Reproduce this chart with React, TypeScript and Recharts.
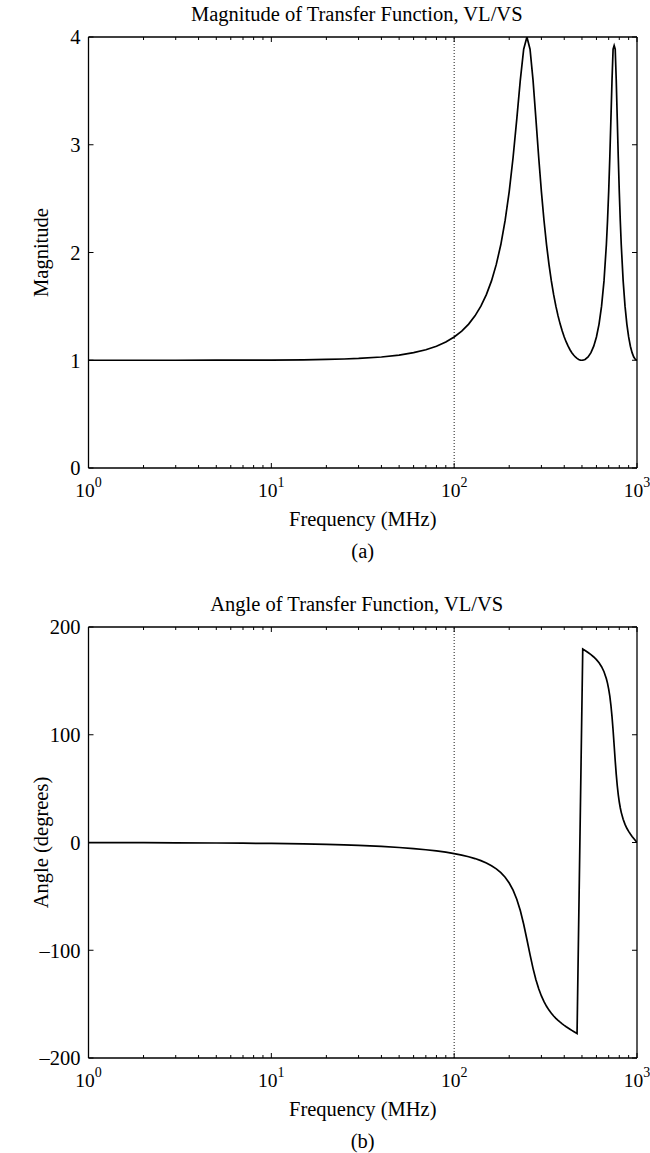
import React from 'react';
import { LineChart, Line, XAxis, YAxis, ReferenceLine, Label } from 'recharts';

const FONT = 'Liberation Serif, Times New Roman, serif';
const TXT = { fontFamily: FONT };
const FS = 20.5;

// Frequency in MHz
const frequencies = [
  1, 2, 3, 5, 7, 10, 15, 20, 25, 30, 40, 50, 60, 70, 80, 90,
  100, 110, 120, 130, 140, 150, 160, 170, 180, 190,
  200, 210, 220, 230, 240, 250, 260, 270, 280, 290,
  300, 310, 320, 330, 340, 350, 360, 370, 380, 390,
  400, 410, 420, 430, 440, 450, 460, 470, 480, 490, 500,
  505, 520, 540, 560, 580, 600, 620, 640, 660, 680, 690,
  700, 710, 720, 730, 740, 750, 760, 770, 780, 790,
  800, 810, 820, 840, 860, 880, 900, 920, 940, 960, 980, 1000,
];

// |VL/VS|
const magnitude = [
  1.0, 1.0, 1.0002, 1.0005, 1.0009, 1.0018, 1.0042, 1.0074, 1.0117, 1.0169, 1.0303, 1.048, 1.0703, 1.0976, 1.1305, 1.1698,
  1.2162, 1.2709, 1.3355, 1.4117, 1.5018, 1.6087, 1.7363, 1.8895, 2.0739, 2.2972,
  2.565, 2.8819, 3.2376, 3.5991, 3.8866, 4.0, 3.8866, 3.5991, 3.2376, 2.8819,
  2.565, 2.2972, 2.0739, 1.8895, 1.7363, 1.6087, 1.5018, 1.4117, 1.3355, 1.2709,
  1.2162, 1.1698, 1.1305, 1.0976, 1.0703, 1.048, 1.0303, 1.0169, 1.0074, 1.0018, 1.0,
  1.0005, 1.0074, 1.0303, 1.0703, 1.1305, 1.2162, 1.3355, 1.5018, 1.7363, 2.0739, 2.2972,
  2.565, 2.8819, 3.2376, 3.5991, 3.8866, 3.92, 3.8866, 3.5991, 3.2376, 2.8819,
  2.565, 2.2972, 2.0739, 1.7363, 1.5018, 1.3355, 1.2162, 1.1305, 1.0703, 1.0303, 1.0074, 1.0,
];

// angle of VL/VS in degrees (null where the curve wraps from -180 to +180)
const angle = [
  -0.09, -0.18, -0.27, -0.45, -0.63, -0.9, -1.35, -1.81, -2.27, -2.73, -3.67, -4.64, -5.65, -6.71, -7.83, -9.01,
  -10.29, -11.69, -13.21, -14.91, -16.82, -18.99, -21.5, -24.45, -27.98, -32.27,
  -37.58, -44.23, -52.65, -63.19, -75.87, -90.0, -104.13, -116.81, -127.35, -135.77,
  -142.42, -147.73, -152.02, -155.55, -158.5, -161.01, -163.18, -165.09, -166.79, -168.31,
  -169.71, -170.99, -172.17, -173.29, -174.35, -175.36, -176.33, -177.27, null, null, null,
  179.55, 178.19, 176.33, 174.35, 172.17, 169.71, 166.79, 163.18, 158.5, 152.02, 147.73,
  142.42, 135.77, 127.35, 116.81, 104.13, 90.0, 75.87, 63.19, 52.65, 44.23,
  37.58, 32.27, 27.98, 21.5, 16.82, 13.21, 10.29, 7.83, 5.65, 3.67, 1.81, 0.0,
];

const xMajorTicks = [1, 10, 100, 1000];
const xMinorTicks = [2, 3, 4, 5, 6, 7, 8, 9, 20, 30, 40, 50, 60, 70, 80, 90, 200, 300, 400, 500, 600, 700, 800, 900];
const magTicks = [0, 1, 2, 3, 4];
const magTickLabels = ['0', '1', '2', '3', '4'];
const angleTicks = [-200, -100, 0, 100, 200];
const angleTickLabels = ['\u2013200', '\u2013100', '0', '100', '200'];

const rows = frequencies.map((f, i) => ({ f, mag: magnitude[i], ang: angle[i] }));
const xTicks = [...xMajorTicks, ...xMinorTicks].sort((a, b) => a - b);

const AX = '#000';

const BottomTick = (props: any) => {
  const { x, y, payload } = props;
  const v = payload.value;
  const major = xMajorTicks.includes(v);
  const len = major ? 5 : 3;
  return (
    <g>
      <line x1={x} x2={x} y1={y} y2={y - len} stroke={AX} strokeWidth={1} />
      {major && (
        <text x={x} y={y + 29} textAnchor="middle" style={TXT} fontSize={19.5} fill="#000">
          <tspan>10</tspan>
          <tspan dy={-10} fontSize={14}>{String(Math.round(Math.log10(v)))}</tspan>
        </text>
      )}
    </g>
  );
};

const TopTick = (props: any) => {
  const { x, y, payload } = props;
  const major = xMajorTicks.includes(payload.value);
  const len = major ? 5 : 3;
  return <line x1={x} x2={x} y1={y} y2={y + len} stroke={AX} strokeWidth={1} />;
};

const makeLeftTick = (ticks: number[], labels: string[]) => (props: any) => {
  const { x, y, payload } = props;
  const idx = ticks.indexOf(payload.value);
  return (
    <g>
      <line x1={x} x2={x + 5} y1={y} y2={y} stroke={AX} strokeWidth={1} />
      <text x={x - 8} y={y} dy="0.36em" textAnchor="end" style={TXT} fontSize={FS} fill="#000">
        {idx >= 0 ? labels[idx] : ''}
      </text>
    </g>
  );
};

const RightTick = (props: any) => {
  const { x, y } = props;
  return <line x1={x} x2={x - 5} y1={y} y2={y} stroke={AX} strokeWidth={1} />;
};

const makeBottomLabel = (tag: string, title: string, yLabel: string, top: number, plotH: number) => (props: any) => {
  const vb = props.viewBox || {};
  const cx = vb.x + vb.width / 2;
  const ly = vb.y - plotH / 2;
  const lx = 48;
  return (
    <g>
      <text x={cx - 6} y={top - 16} textAnchor="middle" style={TXT} fontSize={FS} fill="#000">
        {title}
      </text>
      <text x={lx} y={ly} transform={`rotate(-90 ${lx} ${ly})`} textAnchor="middle" style={TXT} fontSize={FS} fill="#000">
        {yLabel}
      </text>
      <text x={cx} y={vb.y + 58} textAnchor="middle" style={TXT} fontSize={FS} fill="#000">
        Frequency (MHz)
      </text>
      <text x={cx} y={vb.y + 90} textAnchor="middle" style={TXT} fontSize={FS} fill="#000">
        {tag}
      </text>
    </g>
  );
};

type PanelProps = {
  height: number;
  bottomH: number;
  dataKey: string;
  yDomain: [number, number];
  yTicks: number[];
  yLabels: string[];
  title: string;
  yLabel: string;
  tag: string;
};

const TOP = 37;
const PLOT_H = 431;

const Panel = ({ height, bottomH, dataKey, yDomain, yTicks, yLabels, title, yLabel, tag }: PanelProps) => (
  <LineChart width={650} height={height} data={rows} margin={{ top: TOP - 1, right: 12, bottom: 0, left: 0 }}>
    <XAxis
      xAxisId="b"
      dataKey="f"
      type="number"
      scale="log"
      domain={[1, 1000]}
      ticks={xTicks}
      interval={0}
      allowDataOverflow
      height={bottomH}
      tickSize={0}
      tickMargin={0}
      tickLine={false}
      axisLine={{ stroke: AX, strokeWidth: 1.3 }}
      tick={<BottomTick />}
    >
      <Label content={makeBottomLabel(tag, title, yLabel, TOP, PLOT_H)} />
    </XAxis>
    <XAxis
      xAxisId="t"
      orientation="top"
      dataKey="f"
      type="number"
      scale="log"
      domain={[1, 1000]}
      ticks={xTicks}
      interval={0}
      allowDataOverflow
      height={1}
      tickSize={0}
      tickMargin={0}
      tickLine={false}
      axisLine={{ stroke: AX, strokeWidth: 1.3 }}
      tick={<TopTick />}
    />
    <YAxis
      yAxisId="l"
      type="number"
      domain={yDomain}
      ticks={yTicks}
      interval={0}
      allowDataOverflow
      width={88.5}
      tickSize={0}
      tickMargin={0}
      tickLine={false}
      axisLine={{ stroke: AX, strokeWidth: 1.3 }}
      tick={makeLeftTick(yTicks, yLabels)}
    />
    <YAxis
      yAxisId="r"
      orientation="right"
      type="number"
      domain={yDomain}
      ticks={yTicks}
      interval={0}
      allowDataOverflow
      width={1}
      tickSize={0}
      tickMargin={0}
      tickLine={false}
      axisLine={{ stroke: AX, strokeWidth: 1.3 }}
      tick={<RightTick />}
    />
    <ReferenceLine xAxisId="b" yAxisId="l" x={100} stroke="#000" strokeWidth={0.9} strokeDasharray="1 2" />
    <Line
      xAxisId="t"
      yAxisId="r"
      dataKey={dataKey}
      stroke="none"
      dot={false}
      activeDot={false}
      connectNulls
      isAnimationActive={false}
    />
    <Line
      xAxisId="b"
      yAxisId="l"
      type="linear"
      dataKey={dataKey}
      stroke="#000"
      strokeWidth={1.7}
      dot={false}
      activeDot={false}
      connectNulls
      isAnimationActive={false}
    />
  </LineChart>
);

export default function App() {
  return (
    <div style={{ position: 'absolute', left: 0, top: 0, width: 650, height: 1153, background: '#fff', fontFamily: FONT }}>
      <div style={{ position: 'absolute', left: 0, top: 0 }}>
        <Panel
          height={590}
          bottomH={122}
          dataKey="mag"
          yDomain={[0, 4]}
          yTicks={magTicks}
          yLabels={magTickLabels}
          title="Magnitude of Transfer Function, VL/VS"
          yLabel="Magnitude"
          tag="(a)"
        />
      </div>
      <div style={{ position: 'absolute', left: 0, top: 590 }}>
        <Panel
          height={563}
          bottomH={95}
          dataKey="ang"
          yDomain={[-200, 200]}
          yTicks={angleTicks}
          yLabels={angleTickLabels}
          title="Angle of Transfer Function, VL/VS"
          yLabel="Angle (degrees)"
          tag="(b)"
        />
      </div>
    </div>
  );
}
